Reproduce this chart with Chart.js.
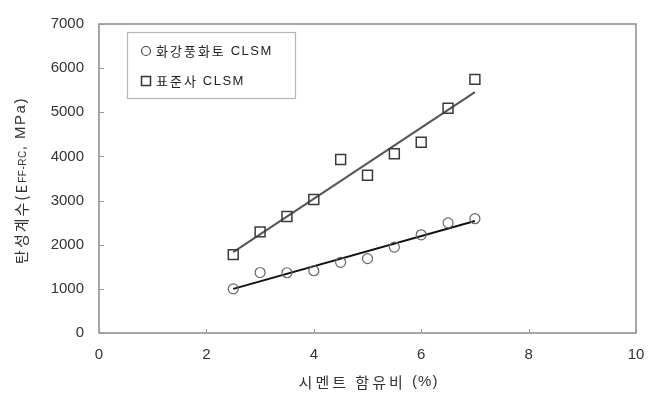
<!DOCTYPE html>
<html>
<head>
<meta charset="utf-8">
<script src="https://cdn.jsdelivr.net/npm/chart.js@4"></script>
<style>
  html, body { margin: 0; padding: 0; background: #fff; }
  #wrap { width: 660px; height: 397px; position: relative; }
</style>
</head>
<body>
<div id="wrap"><canvas id="c" width="660" height="397"></canvas></div>
<script>
// Cement content (%) and measured elastic modulus (MPa)
const cementRatio = [2.5, 3.0, 3.5, 4.0, 4.5, 5.0, 5.5, 6.0, 6.5, 7.0];
const graniteSoilModulus = [1000, 1370, 1365, 1410, 1600, 1685, 1945, 2225, 2495, 2590];
const standardSandModulus = [1775, 2290, 2640, 3025, 3930, 3575, 4060, 4320, 5090, 5745];

const seriesLabels = ['화강풍화토 CLSM', '표준사 CLSM'];
const xTitle = '시멘트 함유비 (%)';
const xTicks = [0, 2, 4, 6, 8, 10];
const yTicks = [0, 1000, 2000, 3000, 4000, 5000, 6000, 7000];

// least-squares fit, evaluated at the ends of the measured range
function fitLine(xs, ys) {
  const n = xs.length;
  const mx = xs.reduce((a, b) => a + b, 0) / n;
  const my = ys.reduce((a, b) => a + b, 0) / n;
  let sxy = 0, sxx = 0;
  for (let i = 0; i < n; i++) { sxy += (xs[i] - mx) * (ys[i] - my); sxx += (xs[i] - mx) ** 2; }
  const k = sxy / sxx, b = my - k * mx;
  const x0 = Math.min(...xs), x1 = Math.max(...xs);
  return [{ x: x0, y: k * x0 + b }, { x: x1, y: k * x1 + b }];
}

const pts = (ys) => cementRatio.map((x, i) => ({ x, y: ys[i] }));

const TEXT = '#333';
const FONT = '"Liberation Sans", Arial, sans-serif';
const KFONT = '"Noto Sans CJK KR", sans-serif';

// draws a run of text pieces (font, letter spacing, baseline shift) starting at x
function drawRuns(ctx, parts, x, y, align) {
  let total = 0;
  parts.forEach(p => { ctx.font = p.f; ctx.letterSpacing = p.ls || '0px'; total += ctx.measureText(p.t).width; });
  let cx = align === 'center' ? x - total / 2 : x;
  parts.forEach(p => {
    ctx.font = p.f; ctx.letterSpacing = p.ls || '0px';
    ctx.fillText(p.t, cx, y + (p.dy || 0));
    cx += ctx.measureText(p.t).width;
  });
  ctx.letterSpacing = '0px';
}

// frame, inward tick marks, legend box and axis titles
const decor = {
  id: 'decor',
  afterDraw(chart) {
    const { ctx, chartArea: a, scales: { x, y } } = chart;
    ctx.save();
    ctx.strokeStyle = '#8a8a8a';
    ctx.lineWidth = 1.5;
    ctx.strokeRect(a.left, a.top, a.right - a.left, a.bottom - a.top);

    ctx.strokeStyle = '#999';
    ctx.lineWidth = 1;
    ctx.beginPath();
    xTicks.forEach(v => {
      const px = Math.round(x.getPixelForValue(v)) + 0.5;
      ctx.moveTo(px, a.bottom); ctx.lineTo(px, a.bottom - 4);
    });
    yTicks.forEach(v => {
      const py = Math.round(y.getPixelForValue(v)) + 0.5;
      ctx.moveTo(a.left, py); ctx.lineTo(a.left + 5, py);
    });
    ctx.stroke();

    // legend
    const lx = 127, ly = 32, lw = 168, lh = 66;
    ctx.fillStyle = '#fff';
    ctx.fillRect(lx, ly, lw, lh);
    ctx.strokeStyle = '#b5b5b5';
    ctx.lineWidth = 1.2;
    ctx.strokeRect(lx + 0.5, ly + 0.5, lw, lh);
    ctx.fillStyle = '#222';
    ctx.textBaseline = 'middle';
    ctx.textAlign = 'left';
    ctx.strokeStyle = '#444';
    ctx.lineWidth = 1.2;
    ctx.beginPath(); ctx.arc(146, 51, 4.5, 0, Math.PI * 2); ctx.stroke();
    ctx.lineWidth = 1.5;
    ctx.strokeStyle = '#333';
    ctx.strokeRect(141.5, 76.5, 9, 9);
    seriesLabels.forEach((label, i) => {
      const sp = label.lastIndexOf(' ');
      drawRuns(ctx, [
        { t: label.slice(0, sp + 1), f: '13px ' + KFONT, ls: '2px' },
        { t: label.slice(sp + 1), f: '13px ' + FONT, ls: '1.5px' }
      ], 156, i === 0 ? 51 : 81, 'left');
    });

    // x title: Korean words spaced out, unit kept tight
    ctx.fillStyle = TEXT;
    const cut = xTitle.indexOf('(');
    drawRuns(ctx, [
      { t: xTitle.slice(0, cut), f: '15px ' + KFONT, ls: '3px' },
      { t: xTitle.slice(cut), f: '15px ' + FONT, ls: '1px' }
    ], (a.left + a.right) / 2 + 1, 382, 'center');

    // y title with subscript
    ctx.translate(21, (a.top + a.bottom) / 2 + 2);
    ctx.rotate(-Math.PI / 2);
    drawRuns(ctx, [
      { t: '탄성계수(E', f: '15px ' + KFONT, ls: '2px' },
      { t: 'FF-RC', f: '10px ' + FONT, dy: 2, ls: '0.5px' },
      { t: ', MPa)', f: '15px ' + FONT, ls: '1.5px' }
    ], 0, 0, 'center');
    ctx.restore();
  }
};

new Chart(document.getElementById('c'), {
  type: 'scatter',
  data: {
    datasets: [
      {
        label: seriesLabels[0],
        data: pts(graniteSoilModulus),
        pointStyle: 'circle',
        pointRadius: 5,
        pointHoverRadius: 5,
        borderColor: '#666',
        backgroundColor: 'rgba(0,0,0,0)',
        borderWidth: 1.2,
        order: 1
      },
      {
        label: seriesLabels[1],
        data: pts(standardSandModulus),
        pointStyle: 'rect',
        pointRadius: 7,
        pointHoverRadius: 7,
        borderColor: '#3a3a3a',
        backgroundColor: 'rgba(0,0,0,0)',
        borderWidth: 1.5,
        order: 1
      },
      {
        label: 'fit-1',
        type: 'line',
        data: fitLine(cementRatio, graniteSoilModulus),
        borderColor: '#111',
        borderWidth: 2,
        pointRadius: 0,
        order: 2
      },
      {
        label: 'fit-2',
        type: 'line',
        data: fitLine(cementRatio, standardSandModulus),
        borderColor: '#555',
        borderWidth: 2,
        pointRadius: 0,
        order: 2
      }
    ]
  },
  options: {
    responsive: false,
    animation: false,
    events: [],
    layout: { padding: { left: 0, top: 15, right: 24, bottom: 0 } },
    plugins: { legend: { display: false }, tooltip: { enabled: false } },
    scales: {
      x: {
        type: 'linear', min: 0, max: 10,
        afterBuildTicks(s) { s.ticks = xTicks.map(v => ({ value: v })); },
        afterFit(s) { s.height = 64; },
        grid: { display: false, drawTicks: false },
        border: { display: false },
        ticks: { padding: 13, color: TEXT, font: { family: FONT, size: 15 }, callback: v => String(v) }
      },
      y: {
        type: 'linear', min: 0, max: 7000,
        afterBuildTicks(s) { s.ticks = yTicks.map(v => ({ value: v })); },
        afterFit(s) { s.width = 99; },
        grid: { display: false, drawTicks: false },
        border: { display: false },
        ticks: { padding: 15, color: TEXT, font: { family: FONT, size: 15 }, callback: v => String(v) }
      }
    }
  },
  plugins: [decor]
});
</script>
</body>
</html>
